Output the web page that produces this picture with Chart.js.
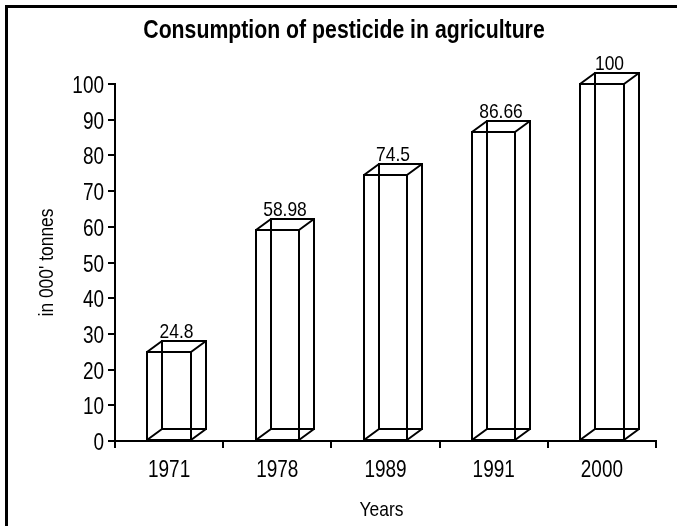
<!DOCTYPE html>
<html><head><meta charset="utf-8">
<script src="https://cdn.jsdelivr.net/npm/chart.js@4/dist/chart.umd.min.js"></script>
<style>html,body{margin:0;padding:0;background:#fff;overflow:hidden}#wrap{position:relative;width:677px;height:526px}</style>
</head><body><div id="wrap"><canvas id="c" width="677" height="526"></canvas></div>
<script>
const years = ['1971', '1978', '1989', '1991', '2000'];
const consumption = [24.8, 58.98, 74.5, 86.66, 100];
const valueLabels = ['24.8', '58.98', '74.5', '86.66', '100'];
const chartTitle = 'Consumption of pesticide in agriculture';
const yTitle = "in 000' tonnes";
const xTitle = 'Years';

const FONT = "'Liberation Sans', Arial, sans-serif";
const DEPTH_X = 15, DEPTH_Y = 11;

// draw horizontally condensed text (Arial-Narrow look)
function narrowText(ctx, text, x, y, size, weight, sx, align, rot) {
  ctx.save();
  ctx.translate(x, y);
  if (rot) ctx.rotate(rot);
  ctx.scale(sx, 1);
  ctx.font = weight + ' ' + size + 'px ' + FONT;
  ctx.fillStyle = '#000';
  ctx.textAlign = align;
  ctx.textBaseline = 'alphabetic';
  ctx.fillText(text, 0, 0);
  ctx.restore();
}

const framePlugin = {
  id: 'frame',
  beforeDraw(chart) {
    const ctx = chart.ctx;
    ctx.save();
    ctx.fillStyle = '#fff';
    ctx.fillRect(0, 0, chart.width, chart.height);
    ctx.strokeStyle = '#000';
    ctx.lineWidth = 3;
    ctx.beginPath();
    ctx.moveTo(6.5, chart.height + 5);
    ctx.lineTo(6.5, 6.5);
    ctx.lineTo(chart.width + 5, 6.5);
    ctx.stroke();
    ctx.restore();
  }
};

const textPlugin = {
  id: 'texts',
  afterDraw(chart) {
    const ctx = chart.ctx;
    const xs = chart.scales.x, ys = chart.scales.y, area = chart.chartArea;
    // title
    narrowText(ctx, chartTitle, 344, 38, 25, 'bold', 0.85, 'center');
    // y tick labels
    ys.ticks.forEach((t, i) => {
      narrowText(ctx, String(t.value), xs.left - 11, Math.round(ys.getPixelForValue(t.value)) + 9, 24, 'normal', 0.79, 'right');
    });
    // x tick labels
    years.forEach((lab, i) => {
      narrowText(ctx, lab, xs.getPixelForTick(i), 477, 24, 'normal', 0.79, 'center');
    });
    // axis titles
    narrowText(ctx, xTitle, (area.left + area.right) / 2 - 4, 516, 21, 'normal', 0.83, 'center');
    narrowText(ctx, yTitle, 53, (area.top + area.bottom) / 2, 21, 'normal', 0.83, 'center', -Math.PI / 2);
  }
};

const boxPlugin = {
  id: 'boxes',
  afterDatasetsDraw(chart) {
    const ctx = chart.ctx;
    const meta = chart.getDatasetMeta(0);
    ctx.save();
    ctx.strokeStyle = '#000';
    ctx.lineWidth = 2;
    meta.data.forEach((bar, i) => {
      const p = bar.getProps(['x', 'y', 'base', 'width'], true);
      const l = Math.round(p.x - p.width / 2), r = Math.round(p.x + p.width / 2);
      const t = Math.round(p.y), b = Math.round(p.base);
      ctx.beginPath();
      ctx.rect(l, t, r - l, b - t);
      ctx.rect(l + DEPTH_X, t - DEPTH_Y, r - l, b - t);
      ctx.moveTo(l, t); ctx.lineTo(l + DEPTH_X, t - DEPTH_Y);
      ctx.moveTo(r, t); ctx.lineTo(r + DEPTH_X, t - DEPTH_Y);
      ctx.moveTo(l, b); ctx.lineTo(l + DEPTH_X, b - DEPTH_Y);
      ctx.moveTo(r, b); ctx.lineTo(r + DEPTH_X, b - DEPTH_Y);
      ctx.stroke();
      narrowText(ctx, valueLabels[i], (l + r + DEPTH_X) / 2, t - DEPTH_Y - 3, 21, 'normal', 0.83, 'center');
    });
    ctx.restore();
  }
};

new Chart(document.getElementById('c'), {
  type: 'bar',
  data: {
    labels: years,
    datasets: [{
      data: consumption,
      backgroundColor: 'rgba(0,0,0,0)',
      borderWidth: 0,
      barPercentage: 0.4,
      categoryPercentage: 1
    }]
  },
  options: {
    responsive: false,
    animation: false,
    devicePixelRatio: 1,
    layout: { padding: { left: 0, right: 21, top: 84, bottom: 0 } },
    plugins: {
      legend: { display: false },
      tooltip: { enabled: false },
      title: { display: false }
    },
    scales: {
      x: {
        afterFit(s) { s.height = 85; },
        grid: { display: true, offset: true, drawOnChartArea: false, drawTicks: true, tickLength: 7, color: '#000', lineWidth: 2 },
        border: { display: true, color: '#000', width: 2 },
        ticks: { display: false }
      },
      y: {
        min: 0, max: 100,
        afterFit(s) { s.width = 115; },
        grid: { display: true, drawOnChartArea: false, drawTicks: true, tickLength: 7, color: '#000', lineWidth: 2 },
        border: { display: true, color: '#000', width: 2 },
        ticks: { display: false, stepSize: 10 }
      }
    }
  },
  plugins: [framePlugin, boxPlugin, textPlugin]
});
</script>
</body></html>
